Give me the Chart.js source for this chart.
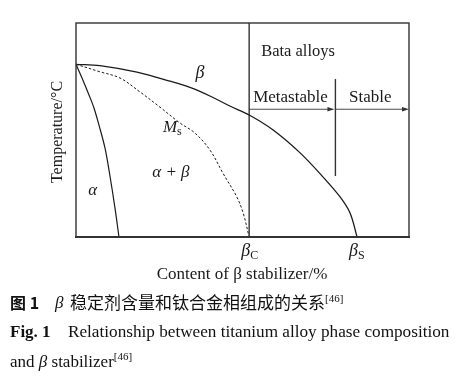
<!DOCTYPE html>
<html><head><meta charset="utf-8">
<style>
html,body{margin:0;padding:0;background:#fff;}
#wrap{position:relative;width:458px;height:379px;overflow:hidden;background:#fff;}
canvas{position:absolute;left:0;top:0;}
.ln{position:absolute;white-space:nowrap;color:#111;font-family:"Liberation Serif","Times New Roman",serif;font-size:17px;line-height:17px;}
.cn{font-family:"Noto Sans CJK SC",sans-serif;}
.it{font-style:italic;}
.sup{font-size:11px;position:relative;top:-7px;}
</style>
<script src="https://cdn.jsdelivr.net/npm/chart.js@4/dist/chart.umd.min.js"></script>
</head><body>
<div id="wrap">
<canvas id="c" width="458" height="379"></canvas>
<div class="ln cn" style="left:10px;top:294px;font-weight:bold;font-size:16px;">图 1</div>
<div class="ln it" style="left:55px;top:294px;">β</div>
<div class="ln cn" style="left:70px;top:293px;font-size:17px;">稳定剂含量和钛合金相组成的关系<span class="sup" style="font-family:'Liberation Serif',serif;">[46]</span></div>
<div class="ln" style="left:10px;top:323px;font-weight:bold;">Fig. 1</div>
<div class="ln" style="left:68px;top:323px;font-size:17.2px;">Relationship between titanium alloy phase composition</div>
<div class="ln" style="left:10px;top:353px;">and <span class="it">β</span> stabilizer<span class="sup">[46]</span></div>
</div>
<script>
// Curves (x: content of beta stabilizer, 0-100; y: temperature, 0-100)
const alphaX = [0, 1.8, 3.9, 5.4, 6.9, 8.7, 10.2, 11.7, 12.9];
const alphaY = [80.7, 74.3, 66.4, 60.3, 52.3, 41.6, 28.5, 13.6, 0];
const msX = [0, 7.2, 13.2, 19.2, 25.2, 31.2, 35.7, 40.2, 44.1, 48.3, 50.2, 52.0];
const msY = [80.7, 77.2, 74.3, 67.8, 60.7, 53.3, 48.6, 40.7, 29.9, 18.7, 11.2, 0];
const betaX = [0, 7.2, 18.3, 28.2, 34.2, 40.2, 46.2, 52.0, 59.2, 67.3, 74.2, 79.3, 82.3, 84.4];
const betaY = [80.7, 80.1, 77.0, 72.8, 69.9, 65.9, 61.2, 57.0, 50.0, 39.3, 28.0, 18.7, 11.2, 0];
// Composition boundaries
const betaC = 52.0;
const betaS = 84.4;
const dividerX = 77.9;
const dividerY = [28.5, 73.8];
const arrowLevel = 59.7;
// Tick labels
const tickValues = [betaC, betaS];
const tickMain = ['β', 'β'];
const tickSub = ['C', 'S'];

const pts = (xs, ys) => xs.map((x, i) => ({x: x, y: ys[i]}));
const serif = '"Liberation Serif","Times New Roman",serif';
const ink = '#1a1a1a';

const textPlugin = {
  id: 'texts',
  afterDatasetsDraw(chart) {
    const {ctx, chartArea: a, scales: {x, y}} = chart;
    ctx.save();
    // frame
    ctx.strokeStyle = '#333';
    ctx.lineWidth = 1.4;
    ctx.strokeRect(a.left, a.top, a.right - a.left, a.bottom - a.top);
    ctx.lineWidth = 2;
    ctx.beginPath(); ctx.moveTo(a.left - 1, a.bottom); ctx.lineTo(a.right + 1, a.bottom); ctx.stroke();

    // arrowheads
    const head = (px, py) => {
      ctx.fillStyle = '#333';
      ctx.beginPath(); ctx.moveTo(px, py); ctx.lineTo(px - 7, py - 2.2); ctx.lineTo(px - 7, py + 2.2); ctx.closePath(); ctx.fill();
    };
    head(x.getPixelForValue(dividerX) - 1, y.getPixelForValue(arrowLevel));
    head(x.getPixelForValue(100), y.getPixelForValue(arrowLevel));

    ctx.fillStyle = ink;
    ctx.textBaseline = 'alphabetic';
    const put = (t, vx, vy, font, align) => {
      ctx.font = font; ctx.textAlign = align || 'left';
      ctx.fillText(t, x.getPixelForValue(vx), y.getPixelForValue(vy));
    };
    // region labels
    put('β', 37.2, 74.5, 'italic 18px ' + serif, 'center');
    put('M', 26.1, 49.1, 'italic 17px ' + serif, 'left');
    ctx.font = 'italic 17px ' + serif;
    const mw = ctx.measureText('M').width;
    ctx.font = '12px ' + serif; ctx.textAlign = 'left';
    ctx.fillText('s', x.getPixelForValue(26.1) + mw, y.getPixelForValue(49.1) + 3);
    put('α + β', 28.5, 28.0, 'italic 17px ' + serif, 'center');
    put('α', 5.0, 19.6, 'italic 17px ' + serif, 'center');
    put('Bata alloys', 55.6, 84.6, '16.5px ' + serif, 'left');
    put('Metastable', 53.2, 63.1, '17px ' + serif, 'left');
    put('Stable', 82.0, 63.1, '17px ' + serif, 'left');

    // x tick labels
    tickValues.forEach((v, i) => {
      const px = x.getPixelForValue(v);
      ctx.font = 'italic 18px ' + serif; ctx.textAlign = 'right';
      ctx.fillText(tickMain[i], px + 1, a.bottom + 19);
      ctx.font = '12px ' + serif; ctx.textAlign = 'left';
      ctx.fillText(tickSub[i], px + 1, a.bottom + 22);
    });

    // axis titles
    ctx.font = '17px ' + serif; ctx.textAlign = 'center';
    ctx.fillText('Content of β stabilizer/%', (a.left + a.right) / 2 - 0.5, a.bottom + 42);
    ctx.save();
    ctx.translate(a.left - 14, (a.top + a.bottom) / 2 + 2);
    ctx.rotate(-Math.PI / 2);
    ctx.font = '16px ' + serif; ctx.textAlign = 'center';
    ctx.fillText('Temperature/°C', 0, 0);
    ctx.restore();
    ctx.restore();
  }
};

const curve = (data, dash, w) => ({
  data: data, borderColor: ink, borderWidth: w, borderDash: dash || [],
  pointRadius: 0, showLine: true, fill: false, tension: 0.35
});
const straight = (data, w) => ({
  data: data, borderColor: '#333', borderWidth: w, pointRadius: 0, showLine: true, fill: false, tension: 0
});

new Chart(document.getElementById('c'), {
  type: 'scatter',
  data: {
    datasets: [
      curve(pts(alphaX, alphaY), null, 1.2),
      curve(pts(msX, msY), [2.5, 2], 1.0),
      curve(pts(betaX, betaY), null, 1.3),
      straight([{x: betaC, y: 0}, {x: betaC, y: 100}], 1.4),
      straight([{x: dividerX, y: dividerY[0]}, {x: dividerX, y: dividerY[1]}], 1.4),
      straight([{x: betaC, y: arrowLevel}, {x: dividerX - 2, y: arrowLevel}], 0.9),
      straight([{x: dividerX, y: arrowLevel}, {x: 99, y: arrowLevel}], 0.9)
    ]
  },
  options: {
    responsive: false,
    animation: false,
    layout: {padding: {left: 76, right: 49, top: 23, bottom: 142}},
    plugins: {legend: {display: false}, tooltip: {enabled: false}},
    scales: {
      x: {type: 'linear', min: 0, max: 100, display: false},
      y: {type: 'linear', min: 0, max: 100, display: false}
    }
  },
  plugins: [textPlugin]
});
</script>
</body></html>
